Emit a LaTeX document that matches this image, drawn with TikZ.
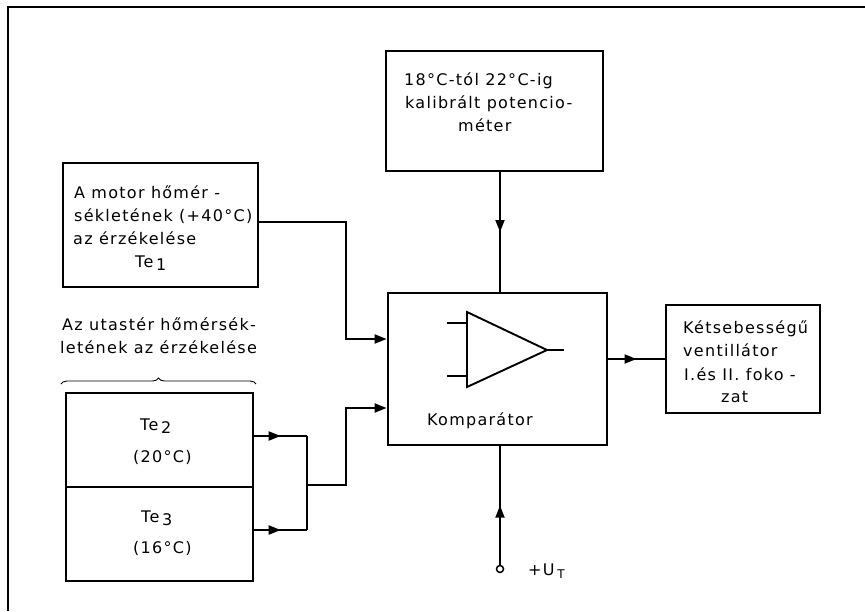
\documentclass[tikz,border=0pt]{standalone}
\usepackage{fontspec}
\setmainfont[LetterSpace=8]{DejaVu Sans}
\usetikzlibrary{arrows.meta,decorations.markings,decorations.pathreplacing}
\tikzset{
  box/.style={draw,line width=2.8pt,minimum width=#1,inner sep=0pt},
  conn/.style={line width=1.9pt},
  tip/.style={-{Triangle[length=12pt,width=9pt]}},
  midarr/.style={postaction={decorate},decoration={markings,
     mark=at position 0.5 with {\arrow{Triangle[length=12pt,width=9pt]}}}},
  lbl/.style={anchor=base west,inner sep=0pt,font=\fontsize{16}{18}\selectfont},
}
\newcommand{\sbs}[1]{\,\raisebox{-0.45ex}{#1}}
\begin{document}
\begin{tikzpicture}[x=1pt,y=-1pt]
\useasboundingbox (0,0) rectangle (865,611);
\draw[line width=1.6pt] (8,611) -- (8,7) -- (865,7);

% boxes
\node[box=217pt,minimum height=120pt] (pot) at (494.5,111) {};
\node[box=195pt,minimum height=124pt] (motor) at (160.5,225) {};
\node[box=219pt,minimum height=152pt] (komp) at (497.5,369) {};
\node[box=154pt,minimum height=108pt] (vent) at (743,359) {};
\node[box=187pt,minimum height=94pt] (te2) at (159.5,440) {};
\node[box=187pt,minimum height=94pt] (te3) at (159.5,534) {};

% texts
\node[lbl] (p1) at (404,85) {18°C-tól 22°C-ig};
\node[lbl] (p2) at (405,108) {kalibrált potencio-};
\node[lbl] (p3) at (458,131) {méter};

\node[lbl] (m1) at (74,198) {A motor hőmér -};
\node[lbl] (m2) at (74,221) {sékletének (+40°C)};
\node[lbl] (m3) at (73,244) {az érzékelése};
\node[lbl] (m4) at (135,267) {Te\sbs{1}};

\node[lbl] (u1) at (62,330) {Az utastér hőmérsék-};
\node[lbl] (u2) at (60,353) {letének az érzékelése};

\node[lbl] (a1) at (140,430) {Te\sbs{2}};
\node[lbl] (a2) at (133,462) {(20°C)};
\node[lbl] (b1) at (141,522) {Te\sbs{3}};
\node[lbl] (b2) at (133,553) {(16°C)};

\node[lbl] (v1) at (683,333) {Kétsebességű};
\node[lbl] (v2) at (683,356) {ventillátor};
\node[lbl] (v3) at (684,380) {I.és II. foko -};
\node[lbl] (v4) at (721,402) {zat};

\node[lbl] (kt) at (427,425) {Komparátor};
\node[lbl] (ut) at (528,575) {+U\sbs{\fontsize{12}{13}\selectfont T}};

% brace
\draw[line width=0.9pt,decorate,decoration={brace,amplitude=6pt,aspect=0.5}]
  (61,384) -- (256,384);

% amplifier
\coordinate (tri1) at (467,312);
\coordinate (tri2) at (467,387);
\coordinate (tri3) at (547,350);
\draw[line width=1.9pt,line join=miter] (tri1) -- (tri2) -- (tri3) -- cycle;
\coordinate (in1) at (447,323);
\coordinate (in2) at (447,376);
\coordinate (out1) at (564,350);
\draw[conn] (in1) -- (in1 -| tri1);
\draw[conn] (in2) -- (in2 -| tri1);
\draw[conn] (tri3) -- (out1);

% connectors
\coordinate (kx) at (500,0);
\draw[conn,midarr] (pot.south -| kx) -- (komp.north -| kx);

\coordinate (bm) at (346,339);
\draw[conn,tip] ([yshift=3pt]motor.east) -| (bm) -- (komp.west |- bm);

\coordinate (jt) at (307,436);
\coordinate (jb) at (307,530);
\coordinate (jm) at (307,485);
\coordinate (bt) at (346,408);
\draw[conn,midarr] ([yshift=4pt]te2.east) -- (jt);
\draw[conn,midarr] ([yshift=4pt]te3.east) -- (jb);
\draw[conn] (jt) -- (jb);
\draw[conn,tip] (jm) -| (bt) -- (komp.west |- bt);

\coordinate (ko) at (607,359);
\draw[conn,midarr] (komp.east |- ko) -- (vent.west |- ko);

\node[draw,circle,line width=1.5pt,minimum size=7pt,inner sep=0pt] (ucirc) at (500,569) {};
\draw[conn,midarr] (ucirc.north) -- (komp.south -| kx);
\end{tikzpicture}
\end{document}
